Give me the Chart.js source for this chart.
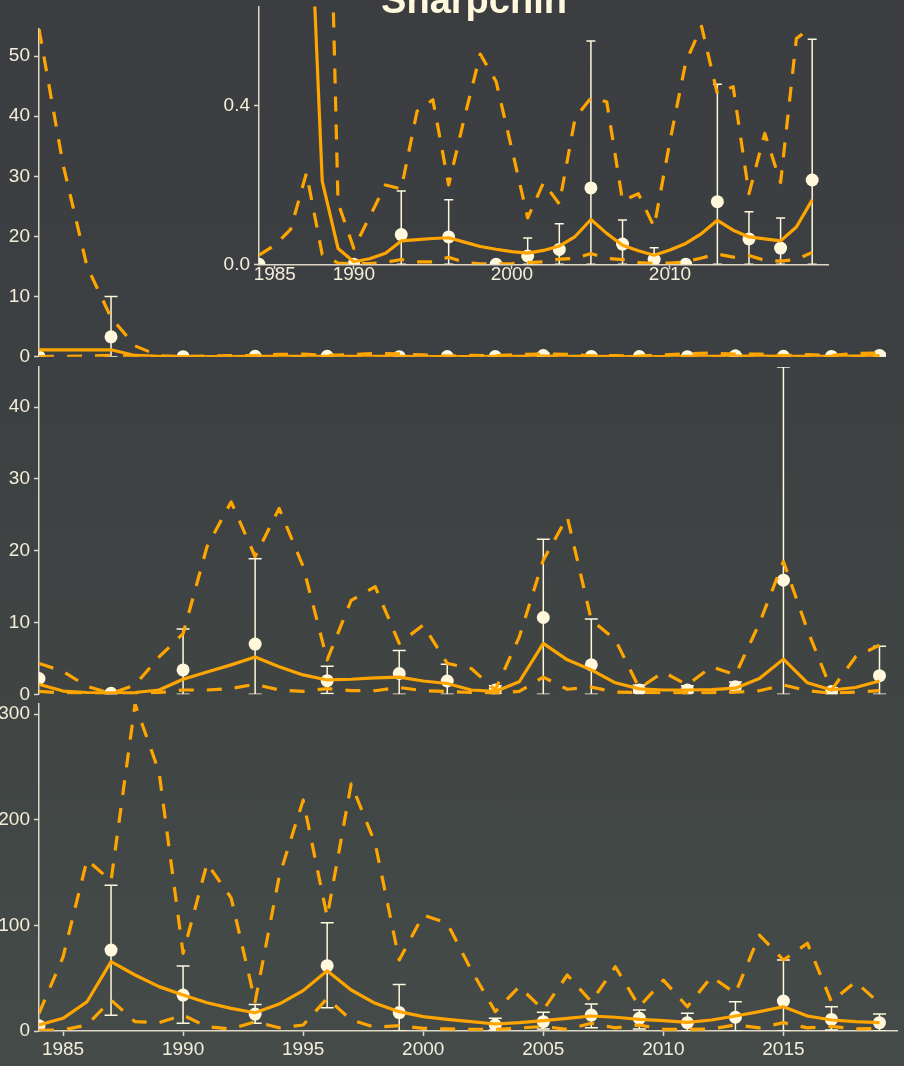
<!DOCTYPE html>
<html>
<head>
<meta charset="utf-8">
<title>Sharpchin</title>
<script src="https://cdn.jsdelivr.net/npm/chart.js@4.4.1/dist/chart.umd.min.js"></script>
<style>
  html, body { margin: 0; padding: 0; background: #3e4143; }
  #board {
    position: relative; width: 904px; height: 1066px; overflow: hidden;
    background: linear-gradient(180deg, #3b3d40 0%, #3d4042 35%, #404544 65%, #444b49 100%);
  }
  #board canvas { position: absolute; left: 0; }
  #title { position: absolute; left: 0; top: 0; }
</style>
</head>
<body>
<div id="board">
  <canvas id="panelA" width="904" height="372" style="top:0px"></canvas>
  <canvas id="panelB" width="904" height="350" style="top:360px"></canvas>
  <canvas id="panelC" width="904" height="369" style="top:697px"></canvas>
  <canvas id="inset" width="904" height="300" style="top:0px"></canvas>
  <svg id="title" width="904" height="40">
    <text x="474" y="13" text-anchor="middle" font-family="'Liberation Sans', Arial, sans-serif"
          font-weight="bold" font-size="38" fill="#FFF8DC">Sharpchin</text>
  </svg>
</div>
<script>
// ---- model years ----
const years = [1984, 1985, 1986, 1987, 1988, 1989, 1990, 1991, 1992, 1993, 1994, 1995,
               1996, 1997, 1998, 1999, 2000, 2001, 2002, 2003, 2004, 2005, 2006, 2007,
               2008, 2009, 2010, 2011, 2012, 2013, 2014, 2015, 2016, 2017, 2018, 2019];

// ---- panel A (top, with zoomed inset) ----
const estA   = [1.15, 1.15, 1.15, 1.15, 0.21, 0.04, 0.0065, 0.014, 0.028, 0.059, 0.062, 0.065,
                0.067, 0.056, 0.045, 0.038, 0.032, 0.028, 0.035, 0.046, 0.07, 0.113, 0.078, 0.048,
                0.034, 0.023, 0.036, 0.0525, 0.0775, 0.111, 0.086, 0.069, 0.064, 0.059, 0.094, 0.1625];
const upperA = [54.5, 32, 15, 6.5, 1.8, 0.155, 0.04, 0.12, 0.2, 0.19, 0.386, 0.415,
                0.2, 0.37, 0.53, 0.461, 0.29, 0.117, 0.206, 0.152, 0.369, 0.419, 0.41, 0.16,
                0.178, 0.094, 0.31, 0.51, 0.6, 0.43, 0.448, 0.178, 0.33, 0.206, 0.569, 0.6];
const lowerA = [0.023, 0.048, 0.088, 0.23, 0.025, 0.003, 0.001, 0.002, 0.005, 0.012, 0.006, 0.006,
                0.018, 0.005, 0.001, 0.001, 0.002, 0.004, 0.006, 0.013, 0.015, 0.027, 0.015, 0.012,
                0.004, 0.002, 0.003, 0.006, 0.016, 0.026, 0.018, 0.022, 0.01, 0.008, 0.012, 0.03];
const surveyYearsA = [1984, 1987, 1990, 1993, 1996, 1999, 2001, 2003, 2005, 2007, 2009, 2011, 2013, 2015, 2017, 2019];
const obsA   = [0, 3.3, 0, 0.075, 0.069, 0, 0.021, 0.0375, 0.1925, 0.051, 0.0125, 0, 0.158, 0.064, 0.041, 0.2125];
const obsLoA = [null, 0, null, 0, 0, null, 0, 0, 0, 0, 0, null, 0, 0, 0, 0];
const obsHiA = [null, 10, null, 0.185, 0.1625, null, 0.066, 0.1025, 0.563, 0.1115, 0.0415, null, 0.454, 0.1325, 0.1165, 0.5675];

// ---- panel B (middle) ----
const estB   = [1.4, 0.45, 0.25, 0.2, 0.25, 0.6, 2.1, 3.1, 4.1, 5.2, 3.85, 2.7,
                2.0, 2.1, 2.3, 2.4, 1.85, 1.5, 0.6, 0.4, 1.75, 7.1, 4.8, 3.4,
                1.6, 0.75, 0.6, 0.6, 0.65, 0.85, 2.2, 4.9, 1.6, 0.6, 0.95, 1.85];
const upperB = [4.3, 3.2, 1.1, 0.1, 1.3, 5.2, 8.45, 20.6, 26.8, 19.2, 25.9, 17.8,
                4.8, 13.1, 15.0, 7.1, 9.65, 4.3, 3.6, 0.6, 8.0, 18.7, 24.7, 10.35,
                7.6, 0.85, 3.1, 1.3, 3.85, 2.7, 9.9, 18.5, 8.95, 0.6, 5.2, 6.85];
const lowerB = [0.4, 0.2, 0.1, 0.05, 0.1, 0.25, 0.6, 0.6, 0.8, 1.4, 0.6, 0.4,
                0.8, 0.5, 0.5, 0.95, 0.5, 0.4, 0.25, 0.15, 0.4, 2.4, 0.7, 1.0,
                0.3, 0.25, 0.2, 0.2, 0.2, 0.3, 0.5, 1.3, 0.5, 0.15, 0.3, 0.5];
const surveyYearsB = [1984, 1987, 1990, 1993, 1996, 1999, 2001, 2003, 2005, 2007, 2009, 2011, 2013, 2015, 2017, 2019];
const obsB   = [2.2, 0.15, 3.4, 7.0, 1.9, 2.9, 1.85, 0.6, 10.7, 4.1, 0.6, 0.6, 1.05, 15.9, 0.4, 2.6];
const obsLoB = [null, 0, 0, 0, 0.1, 0, 0, 0.1, 0, 0, 0.2, 0.2, 0.3, 0, 0.05, 0];
const obsHiB = [null, 0.5, 9.1, 18.9, 3.9, 6.1, 4.2, 1.2, 21.6, 10.5, 1.3, 1.2, 1.7, 45.6, 0.9, 6.7];

// ---- panel C (bottom) ----
const estC   = [5.7, 12, 27.7, 65.6, 53, 42, 34, 26.8, 21.4, 17.3, 25.5, 38.2,
                57, 38.8, 26.2, 18.3, 13.6, 11, 8.8, 6.6, 7.9, 9.8, 12, 14.2,
                13, 11, 9.8, 8.2, 10.4, 14.2, 18.3, 23, 14.2, 10.4, 8.8, 7.9];
const upperC = [16.7, 70, 162, 142, 309.5, 245, 73.5, 158.7, 126, 27.7, 146, 218.5,
                108, 234, 177.5, 67.2, 109.7, 102, 57.7, 18.3, 42, 19.9, 53, 27.7,
                60.8, 23, 48.2, 23, 51.4, 35.7, 90.8, 67.2, 83, 27.7, 46.6, 26.2];
const lowerC = [0.5, 1, 5.7, 29.3, 8.8, 7.9, 15.1, 4, 1.9, 8.8, 3.1, 5.7,
                30.9, 10.4, 3.5, 5, 2.5, 2, 1.5, 1.5, 2.8, 4.3, 1.5, 7.3,
                3, 5.7, 1.5, 1.5, 2, 5.7, 3, 7.9, 3, 4.3, 2, 2.5];
const surveyYearsC = [1984, 1987, 1990, 1993, 1996, 1999, 2003, 2005, 2007, 2009, 2011, 2013, 2015, 2017, 2019];
const obsC   = [5, 76.6, 34, 16, 61.8, 17.4, 5.7, 8.8, 15.1, 12, 7.9, 13, 28.4, 11, 7.9];
const obsLoC = [null, 15, 7.3, 7.3, 22, 0, 1, 2, 3.1, 1.9, 0, 0, 0, 1, 0];
const obsHiC = [null, 138, 61.5, 25, 102.5, 44, 12, 17.7, 25.5, 19.9, 16.7, 27.7, 67.2, 23, 16];

// ---- tick labels ----
const yTicksA = [0, 10, 20, 30, 40, 50];
const yTicksB = [0, 10, 20, 30, 40];
const yTicksC = [0, 100, 200, 300];
const xTicksC = [1985, 1990, 1995, 2000, 2005, 2010, 2015];
const yTicksInset = [0, 0.4];
const xTicksInset = [1985, 1990, 2000, 2010];

// ---- styling ----
const ORANGE = '#FFA500';
const CREAM = '#FFF8DC';
const AXIS = '#DDD7C5';
const LABEL = '#F3EDDA';

Chart.defaults.font.family = "'Liberation Sans', Arial, sans-serif";
Chart.defaults.font.size = 19;
Chart.defaults.animation = false;

const toXY = (xs, ys) => xs.map((x, i) => ({ x: x, y: ys[i] }));

// vertical error bars with caps, drawn beneath the points;
// bars reaching past the top of the y range are left out
function errorBarPlugin(xs, lo, hi, cap) {
  return {
    id: 'errorBars',
    beforeDatasetsDraw(chart) {
      const { ctx, chartArea: a, scales: { x, y } } = chart;
      ctx.save();
      ctx.beginPath();
      ctx.rect(a.left, a.top, a.right - a.left, a.bottom - a.top);
      ctx.clip();
      ctx.strokeStyle = CREAM;
      ctx.lineWidth = 1.5;
      xs.forEach((yr, i) => {
        if (lo[i] == null || hi[i] == null || hi[i] > y.max) return;
        const px = x.getPixelForValue(yr);
        const p1 = y.getPixelForValue(lo[i]);
        const p2 = y.getPixelForValue(hi[i]);
        ctx.beginPath();
        ctx.moveTo(px, p1); ctx.lineTo(px, p2);
        ctx.moveTo(px - cap, p1); ctx.lineTo(px + cap, p1);
        ctx.moveTo(px - cap, p2); ctx.lineTo(px + cap, p2);
        ctx.stroke();
      });
      ctx.restore();
    }
  };
}

function makePanel(id, c) {
  const lineSet = (vals, dash) => ({
    data: toXY(years, vals), borderColor: ORANGE, borderWidth: 3.2, borderDash: dash,
    borderJoinStyle: 'round', pointRadius: 0, fill: false, tension: 0, clip: 0, order: 1
  });
  const tickFont = { family: "'Liberation Sans', Arial, sans-serif", size: 19 };
  return new Chart(document.getElementById(id), {
    type: 'line',
    data: {
      datasets: [
        lineSet(c.est, []),
        lineSet(c.upper, [15, 13]),
        lineSet(c.lower, [15, 13]),
        {
          data: toXY(c.obsYears, c.obs), showLine: false, pointRadius: 6.5,
          pointHoverRadius: 6.5, pointBackgroundColor: CREAM, pointBorderWidth: 0,
          clip: 0, order: 5
        }
      ]
    },
    options: {
      responsive: false,
      animation: false,
      events: [],
      layout: { padding: c.padding },
      plugins: { legend: { display: false }, tooltip: { enabled: false }, title: { display: false } },
      scales: {
        x: {
          type: 'linear', min: c.xMin, max: c.xMax, display: !!c.xTicks,
          afterBuildTicks: s => { if (c.xTicks) s.ticks = c.xTicks.map(v => ({ value: v })); },
          afterFit: s => { s.height = c.xHeight || 0; s.paddingLeft = 0; s.paddingRight = 0; },
          ticks: { callback: v => String(v), color: LABEL, font: tickFont, padding: c.xPad,
                   maxRotation: 0, autoSkip: false },
          grid: { drawOnChartArea: false, drawTicks: true, tickLength: 5, tickWidth: 1.5, tickColor: AXIS },
          border: { display: true, color: AXIS, width: 1.5 }
        },
        y: {
          type: 'linear', min: 0, max: c.yMax,
          afterBuildTicks: s => { s.ticks = c.yTicks.map(v => ({ value: v })); },
          afterFit: s => { s.width = c.yWidth; s.paddingTop = 0; s.paddingBottom = 0; },
          ticks: { callback: c.yFmt || (v => String(v)), color: LABEL, font: tickFont, padding: 4, autoSkip: false },
          grid: { drawOnChartArea: false, drawTicks: true, tickLength: 5, tickWidth: 1.5, tickColor: AXIS },
          border: { display: true, color: AXIS, width: 1.5 }
        }
      }
    },
    plugins: [errorBarPlugin(c.obsYears, c.obsLo, c.obsHi, c.cap)]
  });
}

makePanel('panelA', {
  est: estA, upper: upperA, lower: lowerA,
  obsYears: surveyYearsA, obs: obsA, obsLo: obsLoA, obsHi: obsHiA,
  xMin: 1984, xMax: 2019.75, yMax: 54.5, yTicks: yTicksA, yWidth: 39, cap: 6.5,
  padding: { top: 29, bottom: 15.3, left: 0, right: 0 }
});

makePanel('panelB', {
  est: estB, upper: upperB, lower: lowerB,
  obsYears: surveyYearsB, obs: obsB, obsLo: obsLoB, obsHi: obsHiB,
  xMin: 1984, xMax: 2019.75, yMax: 45.6, yTicks: yTicksB, yWidth: 39, cap: 6.5,
  padding: { top: 7, bottom: 15.7, left: 0, right: 0 }
});

makePanel('panelC', {
  est: estC, upper: upperC, lower: lowerC,
  obsYears: surveyYearsC, obs: obsC, obsLo: obsLoC, obsHi: obsHiC,
  xMin: 1984, xMax: 2019.75, yMax: 309.5, yTicks: yTicksC, yWidth: 39, cap: 6.5,
  xTicks: xTicksC, xHeight: 35, xPad: 2,
  padding: { top: 7, bottom: 0, left: 0, right: 0 }
});

// zoomed view of panel A near zero
makePanel('inset', {
  est: estA, upper: upperA, lower: lowerA,
  obsYears: surveyYearsA, obs: obsA, obsLo: obsLoA, obsHi: obsHiA,
  xMin: 1984, xMax: 2020, yMax: 0.65, yTicks: yTicksInset, yWidth: 259, cap: 4.5,
  yFmt: v => v.toFixed(1),
  xTicks: xTicksInset, xHeight: 35.7, xPad: -6,
  padding: { top: 4.5, bottom: 0, left: 0, right: 76 }
});
</script>
</body>
</html>
